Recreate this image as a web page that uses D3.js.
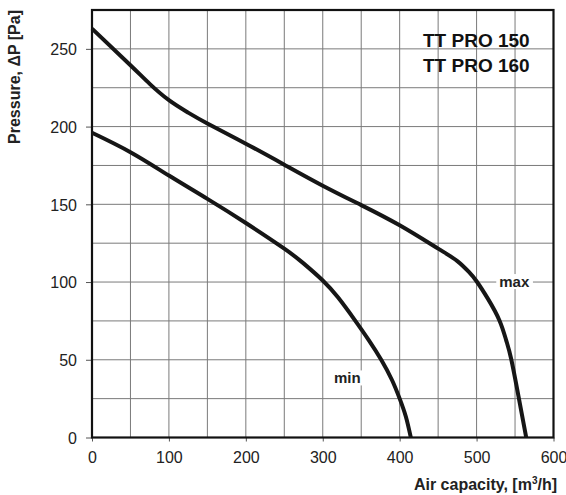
<!DOCTYPE html>
<html>
<head>
<meta charset="utf-8">
<script src="https://cdn.jsdelivr.net/npm/d3@7"></script>
<style>
  html, body { margin: 0; padding: 0; background: #fff; }
  svg { display: block; font-family: "Liberation Sans", Arial, sans-serif; }
</style>
</head>
<body>
<svg id="chart" width="566" height="495"></svg>
<script>
// ---- data ----
const maxFlow = [0, 50, 75, 100, 125, 150, 200, 250, 300, 350, 400, 450, 475, 490, 500, 515, 530, 538.5, 545, 554.5, 564.5];
const maxPressure = [263, 239.5, 227.5, 217, 209, 202, 189, 175.5, 162, 149.5, 136.5, 121.5, 113.5, 106.5, 100.5, 89, 75, 62.5, 50.5, 26.5, 0];
const minFlow = [0, 50, 100, 150, 200, 250, 275, 300, 320, 341, 360, 376, 390, 400, 408, 414.5];
const minPressure = [196, 183.5, 168.5, 153.5, 138, 121.5, 112, 101, 90, 76, 62.5, 50, 37, 25, 13.5, 0];
const xTicks = [0, 100, 200, 300, 400, 500, 600];
const yTicks = [0, 50, 100, 150, 200, 250];
const xGrid = [50, 100, 150, 200, 250, 300, 350, 400, 450, 500, 550];
const yGrid = [25, 50, 75, 100, 125, 150, 175, 200, 225, 250];
const titleLines = ["TT PRO 150", "TT PRO 160"];
const curveLabels = ["max", "min"];
const labelAnchors = [[549, 100], [332, 38]];

// ---- layout ----
const svg = d3.select("#chart");
const L = 92, R = 553.5, T = 10, B = 437.5;
const x = d3.scaleLinear().domain([0, 600]).range([L, R]);
const y = d3.scaleLinear().domain([0, 275]).range([B, T]);

// grid
const g = svg.append("g");
g.selectAll("line.gx").data(xGrid).join("line")
  .attr("x1", d => x(d)).attr("x2", d => x(d))
  .attr("y1", T).attr("y2", B)
  .attr("stroke", "#7a7a7a").attr("stroke-width", 1);
g.selectAll("line.gy").data(yGrid).join("line")
  .attr("x1", L).attr("x2", R)
  .attr("y1", d => y(d)).attr("y2", d => y(d))
  .attr("stroke", "#7a7a7a").attr("stroke-width", 1);

// axes
const xAxis = d3.axisBottom(x).tickValues(xTicks).tickSize(4).tickPadding(10).tickSizeOuter(0);
const yAxis = d3.axisLeft(y).tickValues(yTicks).tickSize(6).tickPadding(9).tickSizeOuter(0);
const gx = svg.append("g").attr("transform", `translate(0,${B})`).call(xAxis);
const gy = svg.append("g").attr("transform", `translate(${L},0)`).call(yAxis);
[gx, gy].forEach(a => {
  a.select(".domain").remove();
  a.selectAll(".tick line").attr("stroke", "#555");
  a.selectAll(".tick text").attr("font-size", 16).attr("fill", "#222")
    .attr("font-family", "'Liberation Sans', Arial, sans-serif");
});
gy.selectAll(".tick text").attr("dy", "0.36em");

// frame
svg.append("rect").attr("x", L).attr("y", T).attr("width", R - L).attr("height", B - T)
  .attr("fill", "none").attr("stroke", "#111").attr("stroke-width", 2.2);

// curves
const line = d3.line().x(d => x(d[0])).y(d => y(d[1])).curve(d3.curveNatural);
const maxData = maxFlow.map((v, i) => [v, maxPressure[i]]);
const minData = minFlow.map((v, i) => [v, minPressure[i]]);
[maxData, minData].forEach(data => {
  svg.append("path").datum(data).attr("d", line)
    .attr("fill", "none").attr("stroke", "#161616").attr("stroke-width", 4)
    .attr("stroke-linejoin", "round");
});

// curve labels with white background
curveLabels.forEach((t, i) => {
  const cx = x(labelAnchors[i][0]), cy = y(labelAnchors[i][1]);
  const txt = svg.append("text").attr("x", cx).attr("y", cy + 5)
    .attr("text-anchor", "middle").attr("font-size", 15).attr("font-weight", "bold")
    .attr("fill", "#222").text(t);
  const bb = txt.node().getBBox();
  svg.insert("rect", () => txt.node())
    .attr("x", bb.x - 3).attr("y", bb.y + 1).attr("width", bb.width + 6).attr("height", bb.height - 2)
    .attr("fill", "#fff");
});

// title
titleLines.forEach((t, i) => {
  svg.append("text").attr("x", 423).attr("y", 46.7 + i * 25)
    .attr("font-size", 19).attr("font-weight", "bold").attr("fill", "#111").text(t);
});

// axis titles
const xt = svg.append("text").attr("x", 557).attr("y", 490).attr("text-anchor", "end")
  .attr("font-size", 16).attr("font-weight", "bold").attr("fill", "#222");
xt.append("tspan").text("Air capacity, [m");
xt.append("tspan").attr("font-size", 10).attr("dy", -6).text("3");
xt.append("tspan").attr("dy", 6).text("/h]");

svg.append("text").attr("transform", "translate(20,10) rotate(-90)")
  .attr("text-anchor", "end").attr("font-size", 16).attr("font-weight", "bold").attr("fill", "#222")
  .text("Pressure, ΔP [Pa]");
</script>
</body>
</html>
